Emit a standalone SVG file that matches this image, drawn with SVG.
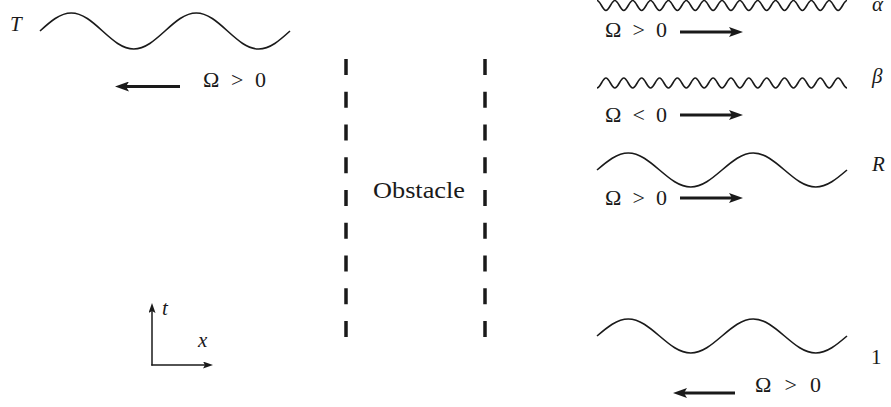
<svg xmlns="http://www.w3.org/2000/svg" width="891" height="407" viewBox="0 0 891 407">
<style>
.wave{fill:none;stroke:#1a1a1a;stroke-width:1.6}
.arr{stroke:#1a1a1a;stroke-width:3.2;fill:none}
.ax{stroke:#1a1a1a;stroke-width:1.5;fill:none}
.dash{stroke:#1a1a1a;stroke-width:3.5;stroke-dasharray:16 16.75;fill:none}
text{fill:#1a1a1a}
.lab{font-size:21px;font-style:italic}
.om{font-size:22px}
</style>
<defs>
<marker id="head" markerUnits="userSpaceOnUse" viewBox="0 0 14 10" markerWidth="14" markerHeight="10" refX="8" refY="5" orient="auto">
<path d="M0,0 L14,5 L0,10 L3,5 z" fill="#1a1a1a"/>
</marker>
<marker id="shead" markerUnits="userSpaceOnUse" viewBox="0 0 10 7" markerWidth="10" markerHeight="7" refX="6" refY="3.5" orient="auto">
<path d="M0,0 L10,3.5 L0,7 L2,3.5 z" fill="#1a1a1a"/>
</marker>
</defs>

<g id="wave-T">
<path class="wave" d="M40,31 c10.19,-9.22 19.94,-18 31.25,-18 c11.31,0 21.06,8.78 31.25,18 c10.19,9.22 19.94,18 31.25,18 c11.31,0 21.06,-8.78 31.25,-18 c10.19,-9.22 19.94,-18 31.25,-18 c11.31,0 21.06,8.78 31.25,18 c10.19,9.22 19.94,18 31.25,18 c11.31,0 21.06,-8.78 31.25,-18"/>
<text class="lab" x="10" y="31" font-family="Liberation Serif">T</text>
<text class="om" x="203" y="87" font-family="Liberation Serif" textLength="63" lengthAdjust="spacing">Ω &gt; 0</text>
</g>

<g id="wave-alpha">
<path class="wave" d="M597,0.5
c1.62,0 3.01,2.44 4.465,5 c1.46,2.56 2.85,5 4.465,5 c1.62,0 3.01,-2.44 4.465,-5 c1.46,-2.56 2.85,-5 4.465,-5
c1.62,0 3.01,2.44 4.465,5 c1.46,2.56 2.85,5 4.465,5 c1.62,0 3.01,-2.44 4.465,-5 c1.46,-2.56 2.85,-5 4.465,-5
c1.62,0 3.01,2.44 4.465,5 c1.46,2.56 2.85,5 4.465,5 c1.62,0 3.01,-2.44 4.465,-5 c1.46,-2.56 2.85,-5 4.465,-5
c1.62,0 3.01,2.44 4.465,5 c1.46,2.56 2.85,5 4.465,5 c1.62,0 3.01,-2.44 4.465,-5 c1.46,-2.56 2.85,-5 4.465,-5
c1.62,0 3.01,2.44 4.465,5 c1.46,2.56 2.85,5 4.465,5 c1.62,0 3.01,-2.44 4.465,-5 c1.46,-2.56 2.85,-5 4.465,-5
c1.62,0 3.01,2.44 4.465,5 c1.46,2.56 2.85,5 4.465,5 c1.62,0 3.01,-2.44 4.465,-5 c1.46,-2.56 2.85,-5 4.465,-5
c1.62,0 3.01,2.44 4.465,5 c1.46,2.56 2.85,5 4.465,5 c1.62,0 3.01,-2.44 4.465,-5 c1.46,-2.56 2.85,-5 4.465,-5
c1.62,0 3.01,2.44 4.465,5 c1.46,2.56 2.85,5 4.465,5 c1.62,0 3.01,-2.44 4.465,-5 c1.46,-2.56 2.85,-5 4.465,-5
c1.62,0 3.01,2.44 4.465,5 c1.46,2.56 2.85,5 4.465,5 c1.62,0 3.01,-2.44 4.465,-5 c1.46,-2.56 2.85,-5 4.465,-5
c1.62,0 3.01,2.44 4.465,5 c1.46,2.56 2.85,5 4.465,5 c1.62,0 3.01,-2.44 4.465,-5 c1.46,-2.56 2.85,-5 4.465,-5
c1.62,0 3.01,2.44 4.465,5 c1.46,2.56 2.85,5 4.465,5 c1.62,0 3.01,-2.44 4.465,-5 c1.46,-2.56 2.85,-5 4.465,-5
c1.62,0 3.01,2.44 4.465,5 c1.46,2.56 2.85,5 4.465,5 c1.62,0 3.01,-2.44 4.465,-5 c1.46,-2.56 2.85,-5 4.465,-5
c1.62,0 3.01,2.44 4.465,5 c1.46,2.56 2.85,5 4.465,5 c1.62,0 3.01,-2.44 4.465,-5 c1.46,-2.56 2.85,-5 4.465,-5
c1.62,0 3.01,2.44 4.465,5 c1.46,2.56 2.85,5 4.465,5 c1.62,0 3.01,-2.44 4.465,-5 c1.46,-2.56 2.85,-5 4.465,-5"/>
<text class="lab" x="872" y="11" font-family="Liberation Serif">α</text>
<text class="om" x="605" y="37" font-family="Liberation Serif" textLength="62" lengthAdjust="spacing">Ω &gt; 0</text>
</g>

<g id="wave-beta">
<path class="wave" d="M597,88
c1.62,0 3.01,-2.44 4.465,-5 c1.46,-2.56 2.85,-5 4.465,-5 c1.62,0 3.01,2.44 4.465,5 c1.46,2.56 2.85,5 4.465,5
c1.62,0 3.01,-2.44 4.465,-5 c1.46,-2.56 2.85,-5 4.465,-5 c1.62,0 3.01,2.44 4.465,5 c1.46,2.56 2.85,5 4.465,5
c1.62,0 3.01,-2.44 4.465,-5 c1.46,-2.56 2.85,-5 4.465,-5 c1.62,0 3.01,2.44 4.465,5 c1.46,2.56 2.85,5 4.465,5
c1.62,0 3.01,-2.44 4.465,-5 c1.46,-2.56 2.85,-5 4.465,-5 c1.62,0 3.01,2.44 4.465,5 c1.46,2.56 2.85,5 4.465,5
c1.62,0 3.01,-2.44 4.465,-5 c1.46,-2.56 2.85,-5 4.465,-5 c1.62,0 3.01,2.44 4.465,5 c1.46,2.56 2.85,5 4.465,5
c1.62,0 3.01,-2.44 4.465,-5 c1.46,-2.56 2.85,-5 4.465,-5 c1.62,0 3.01,2.44 4.465,5 c1.46,2.56 2.85,5 4.465,5
c1.62,0 3.01,-2.44 4.465,-5 c1.46,-2.56 2.85,-5 4.465,-5 c1.62,0 3.01,2.44 4.465,5 c1.46,2.56 2.85,5 4.465,5
c1.62,0 3.01,-2.44 4.465,-5 c1.46,-2.56 2.85,-5 4.465,-5 c1.62,0 3.01,2.44 4.465,5 c1.46,2.56 2.85,5 4.465,5
c1.62,0 3.01,-2.44 4.465,-5 c1.46,-2.56 2.85,-5 4.465,-5 c1.62,0 3.01,2.44 4.465,5 c1.46,2.56 2.85,5 4.465,5
c1.62,0 3.01,-2.44 4.465,-5 c1.46,-2.56 2.85,-5 4.465,-5 c1.62,0 3.01,2.44 4.465,5 c1.46,2.56 2.85,5 4.465,5
c1.62,0 3.01,-2.44 4.465,-5 c1.46,-2.56 2.85,-5 4.465,-5 c1.62,0 3.01,2.44 4.465,5 c1.46,2.56 2.85,5 4.465,5
c1.62,0 3.01,-2.44 4.465,-5 c1.46,-2.56 2.85,-5 4.465,-5 c1.62,0 3.01,2.44 4.465,5 c1.46,2.56 2.85,5 4.465,5
c1.62,0 3.01,-2.44 4.465,-5 c1.46,-2.56 2.85,-5 4.465,-5 c1.62,0 3.01,2.44 4.465,5 c1.46,2.56 2.85,5 4.465,5
c1.62,0 3.01,-2.44 4.465,-5 c1.46,-2.56 2.85,-5 4.465,-5 c1.62,0 3.01,2.44 4.465,5 c1.46,2.56 2.85,5 4.465,5"/>
<text class="lab" x="872" y="83" font-family="Liberation Serif">β</text>
<text class="om" x="605" y="122" font-family="Liberation Serif" textLength="62" lengthAdjust="spacing">Ω &lt; 0</text>
</g>

<g id="wave-R">
<path class="wave" d="M597,170 c10.19,-8.71 19.94,-17 31.25,-17 c11.31,0 21.06,8.29 31.25,17 c10.19,8.71 19.94,17 31.25,17 c11.31,0 21.06,-8.29 31.25,-17 c10.19,-8.71 19.94,-17 31.25,-17 c11.31,0 21.06,8.29 31.25,17 c10.19,8.71 19.94,17 31.25,17 c11.31,0 21.06,-8.29 31.25,-17"/>
<text class="lab" x="872" y="171" font-family="Liberation Serif">R</text>
<text class="om" x="605" y="205" font-family="Liberation Serif" textLength="62" lengthAdjust="spacing">Ω &gt; 0</text>
</g>

<g id="wave-1">
<path class="wave" d="M597,336 c10.19,-8.71 19.94,-17 31.25,-17 c11.31,0 21.06,8.29 31.25,17 c10.19,8.71 19.94,17 31.25,17 c11.31,0 21.06,-8.29 31.25,-17 c10.19,-8.71 19.94,-17 31.25,-17 c11.31,0 21.06,8.29 31.25,17 c10.19,8.71 19.94,17 31.25,17 c11.31,0 21.06,-8.29 31.25,-17"/>
<text x="871" y="364" font-family="Liberation Serif" font-size="21">1</text>
<text class="om" x="755" y="392" font-family="Liberation Serif" textLength="66" lengthAdjust="spacing">Ω &gt; 0</text>
</g>

<g id="obstacle">
<line class="dash" x1="346" y1="59" x2="346" y2="338"/>
<line class="dash" x1="485" y1="59" x2="485" y2="338"/>
<text x="373" y="198" font-family="Liberation Serif" font-size="23" textLength="92" lengthAdjust="spacingAndGlyphs">Obstacle</text>
</g>

<g id="axes">
<line class="ax" x1="152" y1="365.5" x2="152" y2="307" marker-end="url(#shead)"/>
<line class="ax" x1="151.25" y1="365" x2="209" y2="365" marker-end="url(#shead)"/>
<text class="lab" x="162" y="315" font-family="Liberation Serif">t</text>
<text class="lab" x="198" y="347" font-family="Liberation Serif">x</text>
</g>

<g id="connectors">
<line class="arr" x1="180" y1="86.5" x2="121" y2="86.5" marker-end="url(#head)"/>
<line class="arr" x1="680" y1="32" x2="737" y2="32" marker-end="url(#head)"/>
<line class="arr" x1="680" y1="115" x2="737" y2="115" marker-end="url(#head)"/>
<line class="arr" x1="680" y1="198" x2="737" y2="198" marker-end="url(#head)"/>
<line class="arr" x1="735" y1="393" x2="679" y2="393" marker-end="url(#head)"/>
</g>
</svg>
